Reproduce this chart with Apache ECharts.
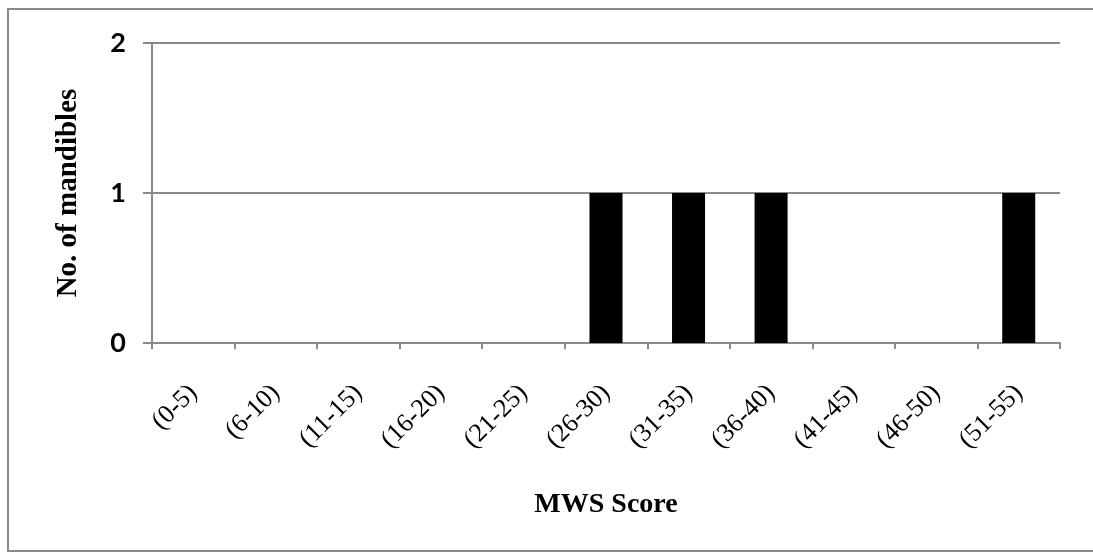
<!DOCTYPE html>
<html><head><meta charset="utf-8">
<script src="https://cdn.jsdelivr.net/npm/echarts@6/dist/echarts.min.js"></script>
<style>html,body{margin:0;padding:0;background:#fff;overflow:hidden}#c{width:1093px;height:553px}</style>
</head><body><div id="c"></div>
<script>
var categories = ['(0-5)','(6-10)','(11-15)','(16-20)','(21-25)','(26-30)','(31-35)','(36-40)','(41-45)','(46-50)','(51-55)'];
var mandibles = [0,0,0,0,0,1,1,1,0,0,1];
var yTicks = [0,1,2];

var chart = echarts.init(document.getElementById('c'));
chart.setOption({
  animation: false,
  backgroundColor: '#fff',
  graphic: [{
    type: 'polyline',
    shape: {points: [[1093, 9], [8, 9], [8, 551], [1093, 551]]},
    style: {fill: 'none', stroke: '#8a8a8a', lineWidth: 2},
    silent: true
  }],
  grid: {left: 152, right: 33, top: 43, bottom: 210, containLabel: false},
  xAxis: {
    type: 'category',
    data: categories,
    name: 'MWS Score',
    nameLocation: 'middle',
    nameGap: 148,
    nameTextStyle: {fontFamily: 'Liberation Serif', fontWeight: 'bold', fontSize: 28, color: '#000'},
    axisLine: {lineStyle: {color: '#8a8a8a', width: 2}},
    axisTick: {show: true, length: 6, lineStyle: {color: '#8a8a8a', width: 2}},
    axisLabel: {rotate: 45, margin: 46, fontFamily: 'Liberation Serif', fontSize: 26, color: '#000', interval: 0}
  },
  yAxis: {
    type: 'value',
    min: yTicks[0], max: yTicks[yTicks.length - 1], interval: 1,
    name: 'No. of mandibles',
    nameLocation: 'middle',
    nameGap: 69,
    nameRotate: 90,
    nameTextStyle: {fontFamily: 'Liberation Serif', fontWeight: 'bold', fontSize: 29, color: '#000'},
    axisLine: {show: true, lineStyle: {color: '#8a8a8a', width: 2}},
    axisTick: {show: true, length: 9, lineStyle: {color: '#8a8a8a', width: 2}},
    axisLabel: {margin: 26, fontFamily: 'Lato', fontWeight: 'bold', fontSize: 27, color: '#000'},
    splitLine: {show: true, lineStyle: {color: '#8a8a8a', width: 2}}
  },
  series: [{
    type: 'bar',
    data: mandibles,
    barWidth: '40%',
    itemStyle: {color: '#000'}
  }]
});
</script></body></html>
